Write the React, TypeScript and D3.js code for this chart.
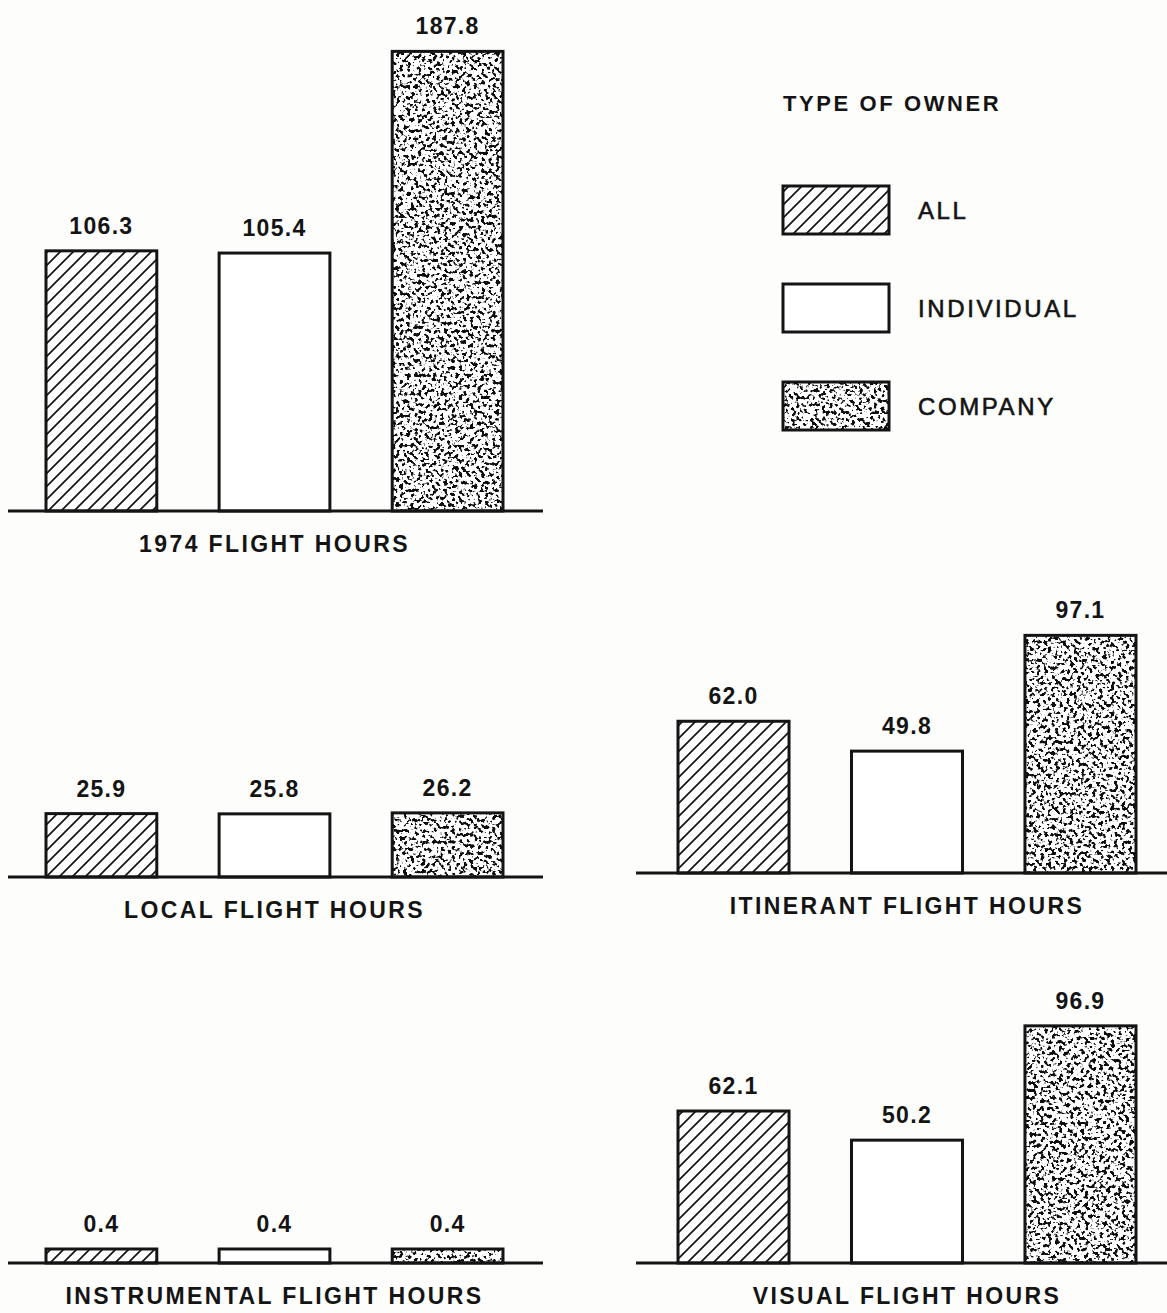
import React from "react";
import * as d3 from "d3";

// owner types, in bar order
const owners = ["ALL", "INDIVIDUAL", "COMPANY"];

// average flight hours per aircraft, by owner type
const totalHours = [106.3, 105.4, 187.8];
const localHours = [25.9, 25.8, 26.2];
const itinerantHours = [62.0, 49.8, 97.1];
const instrumentalHours = [0.4, 0.4, 0.4];
const visualHours = [62.1, 50.2, 96.9];

const panelTitles = [
  "1974 FLIGHT HOURS",
  "LOCAL FLIGHT HOURS",
  "INSTRUMENTAL FLIGHT HOURS",
  "ITINERANT FLIGHT HOURS",
  "VISUAL FLIGHT HOURS",
];
const legendTitle = "TYPE OF OWNER";

const W = 1167;
const H = 1313;
const INK = "#141414";
const FONT = "'Liberation Sans', Arial, Helvetica, sans-serif";

// shared value -> bar height scale (same for every panel)
const heightScale = d3.scaleLinear().domain([0, 190]).range([0, 465]);
const MIN_BAR = 14; // tiny values still drawn as a visible sliver

// panel placement: bar area, axis extent, baseline
const leftCol = { bars: [46, 503], axis: [8, 543] };
const rightCol = { bars: [678, 1136], axis: [636, 1167] };

const panels = [
  { title: panelTitles[0], values: totalHours, col: leftCol, base: 511 },
  { title: panelTitles[1], values: localHours, col: leftCol, base: 877 },
  { title: panelTitles[2], values: instrumentalHours, col: leftCol, base: 1263 },
  { title: panelTitles[3], values: itinerantHours, col: rightCol, base: 873 },
  { title: panelTitles[4], values: visualHours, col: rightCol, base: 1263 },
];

const fills: Record<string, string> = {
  ALL: "url(#hatch)",
  INDIVIDUAL: "#ffffff",
  COMPANY: "speckle",
};

function Bar({ owner, x, y, w, h }: { owner: string; x: number; y: number; w: number; h: number }) {
  const f = fills[owner];
  return (
    <g>
      {f === "speckle" ? (
        <rect x={x} y={y} width={w} height={h} fill="#fff" filter="url(#speckle)" />
      ) : (
        <rect x={x} y={y} width={w} height={h} fill={f} />
      )}
      <rect x={x} y={y} width={w} height={h} fill="none" stroke={INK} strokeWidth={3} />
    </g>
  );
}

function Panel({ title, values, col, base }: (typeof panels)[number]) {
  const x = d3.scaleBand<string>().domain(owners).range(col.bars as [number, number]).paddingInner(0.36).paddingOuter(0);
  const fmt = d3.format(".1f");
  return (
    <g>
      {owners.map((o, i) => {
        const h = Math.max(heightScale(values[i]), MIN_BAR);
        const bx = x(o)!;
        return (
          <g key={o}>
            <Bar owner={o} x={bx} y={base - h} w={x.bandwidth()} h={h} />
            <text
              x={bx + x.bandwidth() / 2}
              y={base - h - 17}
              textAnchor="middle"
              fontSize={23}
              fontWeight="bold"
              letterSpacing={1.3}
              fill={INK}
            >
              {fmt(values[i])}
            </text>
          </g>
        );
      })}
      <line x1={col.axis[0]} x2={col.axis[1]} y1={base} y2={base} stroke={INK} strokeWidth={3} />
      <text
        x={(col.bars[0] + col.bars[1]) / 2}
        y={base + 41}
        textAnchor="middle"
        fontSize={23}
        fontWeight="bold"
        letterSpacing={2.4}
        fill={INK}
      >
        {title}
      </text>
    </g>
  );
}

function Legend() {
  const rows = d3.scalePoint<string>().domain(owners).range([210, 406]);
  return (
    <g>
      <text x={783} y={111} fontSize={22} fontWeight="bold" letterSpacing={2.6} fill={INK}>
        {legendTitle}
      </text>
      {owners.map((o) => {
        const cy = rows(o)!;
        return (
          <g key={o}>
            <Bar owner={o} x={783} y={cy - 24} w={106} h={48} />
            <text
              x={918}
              y={cy + 9}
              fontSize={24}
              letterSpacing={2.6}
              fill={INK}
              stroke={INK}
              strokeWidth={0.6}
            >
              {o}
            </text>
          </g>
        );
      })}
    </g>
  );
}

export default function App() {
  return (
    <svg
      width={W}
      height={H}
      viewBox={`0 0 ${W} ${H}`}
      style={{ position: "absolute", left: 0, top: 0, background: "#fdfdfc", fontFamily: FONT }}
    >
      <defs>
        <pattern id="hatch" patternUnits="userSpaceOnUse" width={13} height={13}>
          <rect width={13} height={13} fill="#fff" />
          <path d="M-1,14 L14,-1 M-4,4 L4,-4 M9,17 L17,9" stroke={INK} strokeWidth={1.7} />
        </pattern>
        <filter id="speckle" x="0" y="0" width="1" height="1" colorInterpolationFilters="sRGB">
          <feTurbulence type="fractalNoise" baseFrequency="0.27" numOctaves={2} seed={7} result="n" />
          <feColorMatrix
            in="n"
            type="matrix"
            values="0 0 0 0 0.05  0 0 0 0 0.05  0 0 0 0 0.05  -12 0 0 0 5.7"
            result="dots"
          />
          <feFlood floodColor="#ffffff" result="bg" />
          <feMerge>
            <feMergeNode in="bg" />
            <feMergeNode in="dots" />
          </feMerge>
        </filter>
      </defs>
      {panels.map((p) => (
        <Panel key={p.title} {...p} />
      ))}
      <Legend />
    </svg>
  );
}
